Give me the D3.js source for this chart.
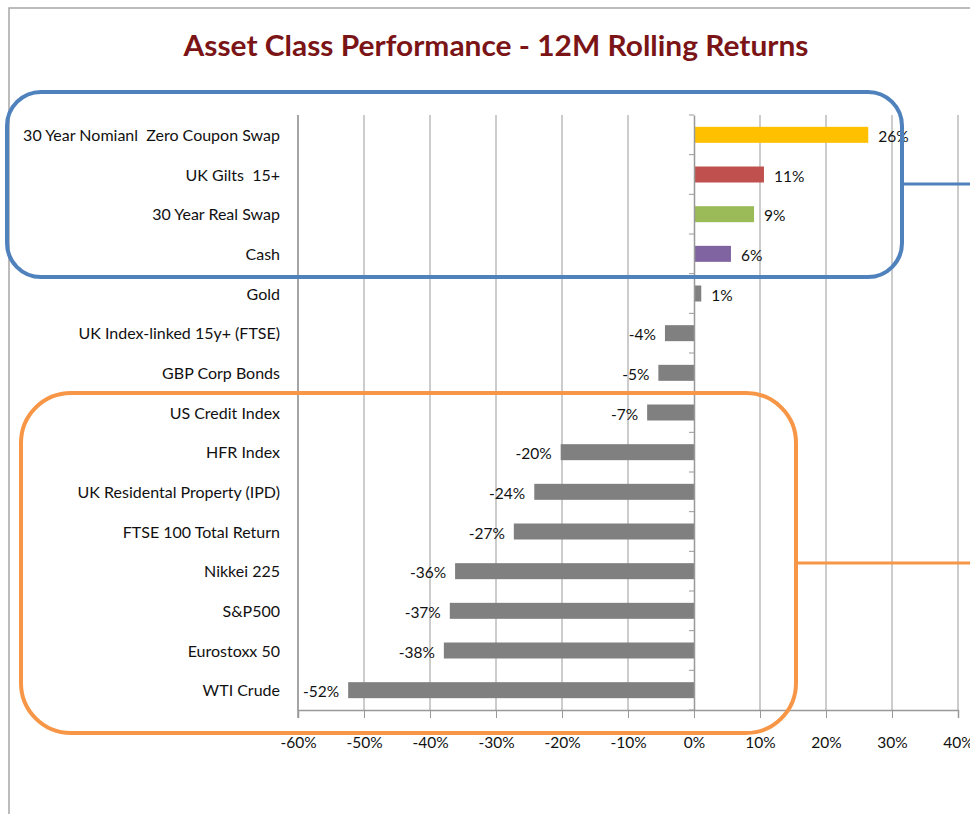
<!DOCTYPE html>
<html>
<head>
<meta charset="utf-8">
<script src="https://cdn.jsdelivr.net/npm/d3@7"></script>
<style>
  body { margin: 0; background: #fff; }
  svg { display: block; font-family: Lato, "Open Sans", sans-serif; }
</style>
</head>
<body>
<svg id="chart" width="970" height="814"></svg>
<script>
// Categories, top to bottom
const categories = [
    '30 Year Nomianl  Zero Coupon Swap', 'UK Gilts  15+', '30 Year Real Swap', 'Cash',
    'Gold', 'UK Index-linked 15y+ (FTSE)', 'GBP Corp Bonds', 'US Credit Index',
    'HFR Index', 'UK Residental Property (IPD)', 'FTSE 100 Total Return',
    'Nikkei 225', 'S&P500', 'Eurostoxx 50', 'WTI Crude'
];
// 12M rolling returns (%)
const returns = [26.4, 10.6, 9.1, 5.6, 1.1, -4.4, -5.4, -7.1, -20.2, -24.2, -27.3, -36.2, -37.0, -37.9, -52.4];
const barColors = ['#FFC000', '#C0504D', '#9BBB59', '#8064A2', '#808080', '#808080', '#808080',
    '#808080', '#808080', '#808080', '#808080', '#808080', '#808080', '#808080', '#808080'];
const xTicks = [-60, -50, -40, -30, -20, -10, 0, 10, 20, 30, 40];

const svg = d3.select('#chart');

// Chart frame (top and left edges visible)
svg.append('path')
    .attr('d', 'M9,814 V8 H970')
    .attr('fill', 'none')
    .attr('stroke', '#a6a6a6')
    .attr('stroke-width', 1.5);

// Title
svg.append('text')
    .attr('x', 496)
    .attr('y', 56)
    .attr('text-anchor', 'middle')
    .attr('font-size', 29)
    .attr('font-weight', 'bold')
    .attr('fill', '#7B1416')
    .attr('textLength', 625)
    .attr('lengthAdjust', 'spacingAndGlyphs')
    .text('Asset Class Performance - 12M Rolling Returns');

const x = d3.scaleLinear().domain([-60, 40]).range([298, 958]);
const y = d3.scaleBand().domain(categories).range([115, 710]);
const barH = 16;

// Vertical gridlines
svg.append('g')
    .selectAll('line')
    .data(xTicks.filter(d => d !== 0))
    .join('line')
    .attr('x1', d => x(d)).attr('x2', d => x(d))
    .attr('y1', 115).attr('y2', 710)
    .attr('stroke', '#999')
    .attr('stroke-width', 1);

// Bottom value axis
const xAxis = svg.append('g')
    .attr('transform', 'translate(0,710)')
    .call(d3.axisBottom(x).tickValues(xTicks).tickFormat(d => d + '%').tickSize(8).tickPadding(19));
xAxis.select('.domain').attr('stroke', '#999').attr('stroke-width', 1.5);
xAxis.selectAll('.tick line').attr('stroke', '#999');
xAxis.selectAll('.tick text').attr('font-size', 15.5).attr('fill', '#111').attr('font-family', 'Lato, sans-serif');

// Bars
svg.append('g')
    .selectAll('rect')
    .data(categories)
    .join('rect')
    .attr('x', (d, i) => x(Math.min(0, returns[i])))
    .attr('width', (d, i) => Math.abs(x(returns[i]) - x(0)))
    .attr('y', d => y(d) + y.bandwidth() / 2 - barH / 2)
    .attr('height', barH)
    .attr('fill', (d, i) => barColors[i]);

// Category axis at zero
const yAxis = svg.append('g')
    .attr('transform', `translate(${x(0)},0)`)
    .call(d3.axisLeft(y).tickSize(0).tickFormat(''));
yAxis.select('.domain').attr('stroke', '#999').attr('stroke-width', 1.5);
svg.append('g')
    .selectAll('line')
    .data(d3.range(categories.length + 1))
    .join('line')
    .attr('x1', x(0) - 5).attr('x2', x(0))
    .attr('y1', i => 115 + i * y.step()).attr('y2', i => 115 + i * y.step())
    .attr('stroke', '#999');

// Left axis line at -60%
svg.append('line')
    .attr('x1', x(-60)).attr('x2', x(-60))
    .attr('y1', 115).attr('y2', 718)
    .attr('stroke', '#999').attr('stroke-width', 1.5);

// Category labels
svg.append('g')
    .selectAll('text')
    .data(categories)
    .join('text')
    .attr('x', 280)
    .attr('y', d => y(d) + y.bandwidth() / 2 + 6)
    .attr('text-anchor', 'end')
    .attr('font-size', 16)
    .attr('fill', '#111')
    .style('white-space', 'pre')
    .text(d => d);

// Value labels
svg.append('g')
    .selectAll('text')
    .data(categories)
    .join('text')
    .attr('x', (d, i) => returns[i] >= 0 ? x(returns[i]) + 10 : x(returns[i]) - 9)
    .attr('y', d => y(d) + y.bandwidth() / 2 + 7)
    .attr('text-anchor', (d, i) => returns[i] >= 0 ? 'start' : 'end')
    .attr('font-size', 15.5)
    .attr('fill', '#111')
    .text((d, i) => Math.round(returns[i]) + '%');

// Annotation boxes with leader lines
const boxes = [
    { x0: 7, y0: 92, x1: 902, y1: 277, r: 34, lineY: 184, color: '#4F81BD' },
    { x0: 21, y0: 393, x1: 796, y1: 733, r: 50, lineY: 563, color: '#F79646' }
];
svg.append('g')
    .selectAll('rect')
    .data(boxes)
    .join('rect')
    .attr('x', d => d.x0).attr('y', d => d.y0)
    .attr('width', d => d.x1 - d.x0).attr('height', d => d.y1 - d.y0)
    .attr('rx', d => d.r)
    .attr('fill', 'none')
    .attr('stroke', d => d.color)
    .attr('stroke-width', 4);
svg.append('g')
    .selectAll('line')
    .data(boxes)
    .join('line')
    .attr('x1', d => d.x1).attr('x2', 972)
    .attr('y1', d => d.lineY).attr('y2', d => d.lineY)
    .attr('stroke', d => d.color)
    .attr('stroke-width', 3);
</script>
</body>
</html>
